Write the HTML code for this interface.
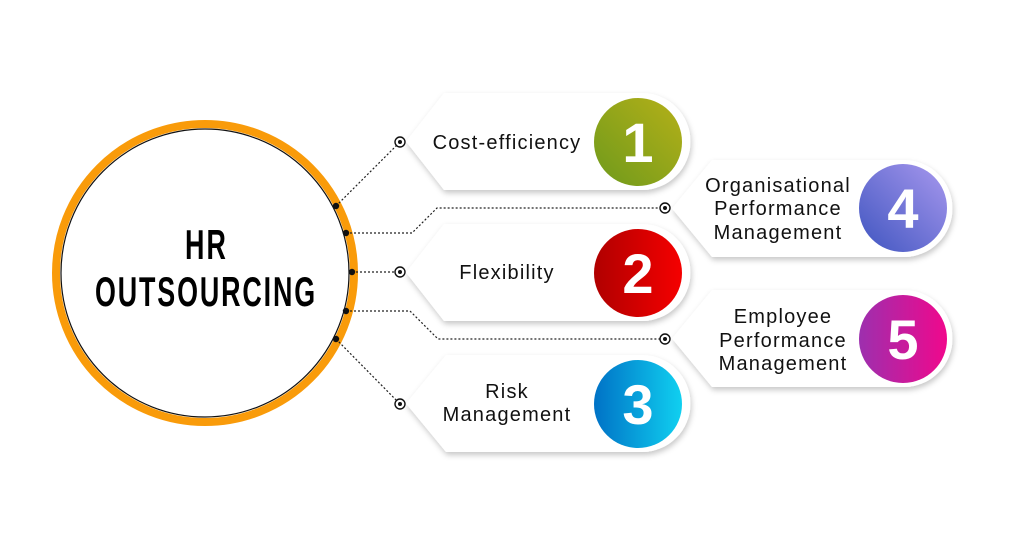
<!DOCTYPE html>
<html><head><meta charset="utf-8"><style>
html,body{margin:0;padding:0;background:#fff;}
svg{display:block;}
text{font-family:"Liberation Sans",sans-serif;}
.lb{font-size:20px;fill:#111;letter-spacing:1.2px;text-anchor:middle;}
.num{font-size:56px;font-weight:bold;fill:#fff;text-anchor:middle;}
.hr{font-size:42px;font-weight:bold;fill:#000;}
</style></head><body>
<svg width="1024" height="544" viewBox="0 0 1024 544">
<defs>
<filter id="sh" x="-10%" y="-20%" width="130%" height="150%"><feDropShadow dx="1" dy="3" stdDeviation="3" flood-color="#000" flood-opacity="0.22"/></filter>
<linearGradient id="g1" x1="0" y1="1" x2="1" y2="0"><stop offset="0" stop-color="#6e9a1c"/><stop offset="1" stop-color="#b5b018"/></linearGradient>
<linearGradient id="g2" x1="0" y1="0" x2="1" y2="0"><stop offset="0" stop-color="#b00000"/><stop offset="1" stop-color="#f50000"/></linearGradient>
<linearGradient id="g3" x1="0" y1="0" x2="1" y2="0"><stop offset="0" stop-color="#0072c6"/><stop offset="1" stop-color="#10d0f0"/></linearGradient>
<linearGradient id="g4" x1="0" y1="1" x2="1" y2="0"><stop offset="0" stop-color="#3f55c0"/><stop offset="1" stop-color="#a898ee"/></linearGradient>
<linearGradient id="g5" x1="0" y1="0" x2="1" y2="0"><stop offset="0" stop-color="#9d2fae"/><stop offset="1" stop-color="#f0088c"/></linearGradient>
</defs>

<circle cx="205" cy="273" r="149" fill="#fff" stroke="#f99b0a" stroke-width="8"/>
<circle cx="205" cy="273" r="144" fill="none" stroke="#111" stroke-width="1.2"/>
<g transform="translate(185 259) scale(0.64 1)"><text class="hr" x="0" y="0" textLength="64" lengthAdjust="spacing">HR</text></g>
<g transform="translate(95 306) scale(0.64 1)"><text class="hr" x="0" y="0" textLength="344" lengthAdjust="spacing">OUTSOURCING</text></g>

<g fill="none" stroke="#222" stroke-width="1.2" stroke-dasharray="2 2">
<path d="M336 206 L400 142"/>
<path d="M346 233 L412 233 L437 208 L665 208"/>
<path d="M352 272 L400 272"/>
<path d="M346 311 L410 311 L438 339 L665 339"/>
<path d="M336 339 L400 404"/>
</g>
<g fill="#111">
<circle cx="336" cy="206" r="3.2"/><circle cx="346" cy="233" r="3.2"/><circle cx="352" cy="272" r="3.2"/><circle cx="346" cy="311" r="3.2"/><circle cx="336" cy="339" r="3.2"/>
</g>

<g filter="url(#sh)" fill="#fff">
<path d="M444 93 L642 93 A48.5 48.5 0 0 1 642 190 L444 190 L406 141.5 Z"/>
<path d="M444 224 L642 224 A48.5 48.5 0 0 1 642 321 L444 321 L406 272.5 Z"/>
<path d="M446 355 L642 355 A48.5 48.5 0 0 1 642 452 L446 452 L406 403.5 Z"/>
<path d="M712 160 L904 160 A48.5 48.5 0 0 1 904 257 L712 257 L672 208.5 Z"/>
<path d="M712 290 L904 290 A48.5 48.5 0 0 1 904 387 L712 387 L672 338.5 Z"/>
</g>

<g fill="#fff" stroke="#111" stroke-width="1.4">
<circle cx="400" cy="142" r="5"/><circle cx="400" cy="272" r="5"/><circle cx="400" cy="404" r="5"/><circle cx="665" cy="208" r="5"/><circle cx="665" cy="339" r="5"/>
</g>
<g fill="#111">
<circle cx="400" cy="142" r="2"/><circle cx="400" cy="272" r="2"/><circle cx="400" cy="404" r="2"/><circle cx="665" cy="208" r="2"/><circle cx="665" cy="339" r="2"/>
</g>

<circle cx="638" cy="142" r="44" fill="url(#g1)"/>
<circle cx="638" cy="273" r="44" fill="url(#g2)"/>
<circle cx="638" cy="404" r="44" fill="url(#g3)"/>
<circle cx="903" cy="208" r="44" fill="url(#g4)"/>
<circle cx="903" cy="339" r="44" fill="url(#g5)"/>
<text class="num" x="638" y="162">1</text>
<text class="num" x="638" y="293">2</text>
<text class="num" x="638" y="424">3</text>
<text class="num" x="903" y="228">4</text>
<text class="num" x="903" y="359">5</text>

<text class="lb" x="507" y="149">Cost-efficiency</text>
<text class="lb" x="507" y="279">Flexibility</text>
<text class="lb" x="507" y="398">Risk</text>
<text class="lb" x="507" y="421">Management</text>
<text class="lb" x="778" y="192">Organisational</text>
<text class="lb" x="778" y="215">Performance</text>
<text class="lb" x="778" y="239">Management</text>
<text class="lb" x="783" y="323">Employee</text>
<text class="lb" x="783" y="347">Performance</text>
<text class="lb" x="783" y="370">Management</text>
</svg>
</body></html>
